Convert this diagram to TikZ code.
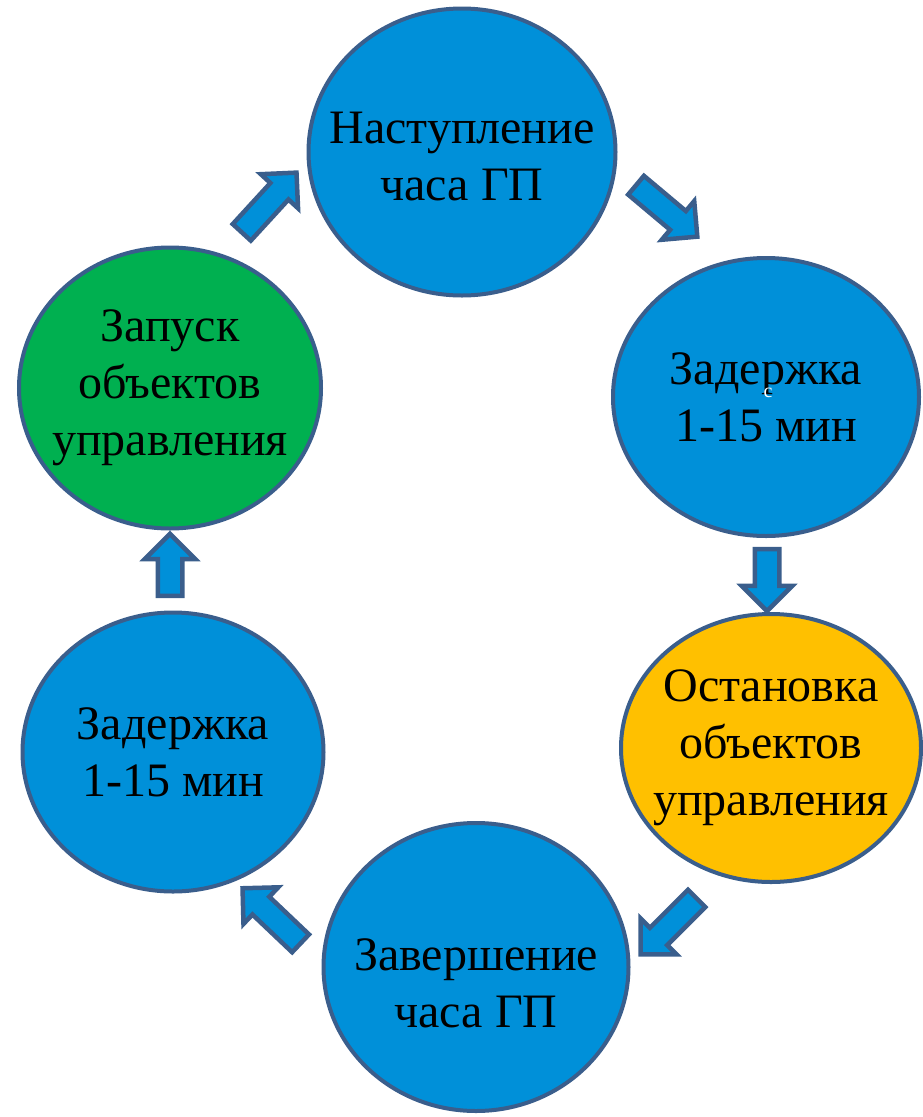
\documentclass[tikz,border=0pt]{standalone}
\usepackage{fontspec}
\setmainfont{Liberation Serif}
\usetikzlibrary{positioning, shapes.geometric, shapes.arrows}
\definecolor{cyclblue}{RGB}{0, 144, 217}
\definecolor{rimblue}{RGB}{58, 94, 140}
\definecolor{startgreen}{RGB}{0, 176, 80}
\definecolor{stoporange}{RGB}{255, 192, 0}

\begin{document}
\begin{tikzpicture}[
            x=1pt, y=-1pt,
            phase/.style={ellipse, draw=rimblue, line width=4pt, fill=cyclblue, inner sep=0pt},
            greenphase/.style={phase, fill=startgreen},
            orangephase/.style={phase, fill=stoporange},
            phasetext/.style={align=center, font=\fontsize{48}{57}\selectfont},
            blockarrow/.style={single arrow, draw=rimblue, line width=4.5pt, fill=cyclblue, inner xsep=0pt, inner ysep=10pt, single arrow head extend=13pt, minimum height=62pt}
        ]
            \useasboundingbox (0,0) rectangle (923,1117);

            % phases of the cycle
            \node[phase, minimum width=307pt, minimum height=287pt] (start) at (462,152) {};
            \node[phasetext] (starttxt) at (462,157) {Наступление\\часа ГП};
            \node[phase, minimum width=306pt, minimum height=278pt] (delayA) at (766,397) {};
            \node[phasetext] (delayAtxt) at (delayA.center) {Задержка\\1-15 мин};
            \node[orangephase, minimum width=300pt, minimum height=268pt] (stop) at (771,748) {};
            \node[phasetext] (stoptxt) at (stop.center) {Остановка\\объектов\\управления};
            \node[phase, minimum width=305pt, minimum height=288pt] (finish) at (476,967) {};
            \node[phasetext] (finishtxt) at (476,983) {Завершение\\часа ГП};
            \node[phase, minimum width=301pt, minimum height=279pt] (delayB) at (173,752) {};
            \node[phasetext] (delayBtxt) at (delayB.center) {Задержка\\1-15 мин};
            \node[greenphase, minimum width=302pt, minimum height=281pt] (launch) at (170,388) {};
            \node[phasetext] (launchtxt) at (launch.center) {Запуск\\объектов\\управления};

            \node[text=white, font=\fontsize{20}{20}\selectfont, inner sep=0pt] (mark) at (768,393) {с};

            % block arrows between phases
            \node[blockarrow, rotate=-40, minimum height=80pt] (a1) at (662,207) {};
            \node[blockarrow, rotate=-90] (a2) at (767,574) {};
            \node[blockarrow, rotate=225, minimum height=79pt] (a3) at (673,922) {};
            \node[blockarrow, rotate=136.5, minimum height=80pt] (a4) at (276,920) {};
            \node[blockarrow, rotate=90] (a5) at (170,571) {};
            \node[blockarrow, rotate=47.5, minimum height=81pt] (a6) at (265,207) {};
        \end{tikzpicture}
\end{document}
